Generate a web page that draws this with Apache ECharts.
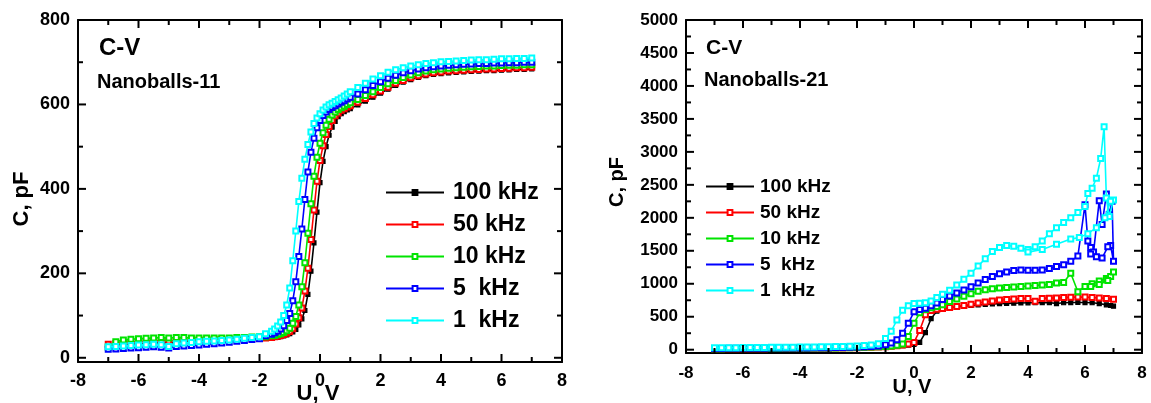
<!DOCTYPE html>
<html>
<head>
<meta charset="utf-8">
<script src="https://cdn.jsdelivr.net/npm/echarts@6/dist/echarts.min.js"></script>
<style>
  html, body { margin: 0; padding: 0; background: #fff; }
  #chart { width: 1151px; height: 403px; }
</style>
</head>
<body>
<div id="chart"></div>
<script>
// ---- Nanoballs-11: bias voltage (V) and capacitance (pF) per frequency ----
const uL = [-7,-6.75,-6.5,-6.25,-6,-5.75,-5.5,-5.25,-5,-4.75,-4.5,-4.25,-4,-3.75,-3.5,-3.25,-3,-2.75,-2.5,-2.25,-2,
  -1.8,-1.6,-1.5,-1.4,-1.3,-1.2,-1.1,-1.0,-0.9,-0.8,-0.7,-0.6,-0.5,-0.4,-0.3,-0.2,-0.1,0,0.1,0.2,0.3,0.4,0.5,0.6,0.7,0.8,0.9,1.0,
  1.25,1.5,1.75,2,2.25,2.5,2.75,3,3.25,3.5,3.75,4,4.25,4.5,4.75,5,5.25,5.5,5.75,6,6.25,6.5,6.75,7];
const cL100 = [28,30,31,32,33,34,35,36,35,37,38,38,39,40,40,41,42,42,43,44,45,
  46,47,48,49,50,52,54,57,61,67,78,92,112,150,205,272,345,415,465,500,527,546,560,571,578,583,587,590,
  599,608,617,627,636,645,653,659,664,668,671,673,675,676,677,678,679,680,680,681,682,683,683,684];
const cL50 = [32,34,36,37,38,39,40,40,40,41,41,42,42,42,43,43,44,44,45,46,46,
  47,48,50,51,53,55,58,62,69,80,95,118,158,212,280,350,418,467,502,529,548,562,573,580,586,590,594,597,
  605,614,623,632,641,650,657,663,668,672,675,677,679,680,681,682,683,684,684,685,686,687,687,688];
const cL10 = [25,38,42,44,45,46,47,48,47,48,48,47,47,47,47,47,47,48,48,49,50,
  50,52,53,55,57,60,64,70,82,98,125,168,225,295,365,430,475,508,533,551,565,575,582,588,592,596,600,604,
  612,621,630,640,649,657,664,670,675,679,682,684,686,687,688,689,690,691,691,692,693,693,694,694];
const cL5 = [20,21,22,23,24,25,26,25,23,27,28,29,30,32,33,35,37,39,41,43,45,
  52,56,59,63,68,76,88,105,135,180,240,305,375,440,487,520,545,562,574,582,588,593,597,601,605,609,613,617,
  625,635,645,654,662,669,675,680,684,687,689,691,693,694,695,696,697,697,698,698,699,699,700,700];
const cL1 = [26,27,28,29,30,31,32,31,27,33,35,36,38,39,40,41,42,44,46,48,50,
  57,63,68,75,85,100,125,165,230,300,370,425,470,505,535,555,568,578,587,594,599,603,607,611,615,620,625,630,
  640,650,660,668,676,682,687,691,694,697,699,701,702,703,704,705,706,706,707,708,708,709,709,710];

// ---- Nanoballs-21: main sweep up to 5.75 V, then the noisy end of each sweep ----
const uR = [-7,-6.75,-6.5,-6.25,-6,-5.75,-5.5,-5.25,-5,-4.75,-4.5,-4.25,-4,-3.75,-3.5,-3.25,-3,-2.75,-2.5,-2.25,-2,-1.75,-1.5,-1.25,
  -1,-0.8,-0.6,-0.4,-0.2,0,0.2,0.4,0.6,0.8,1,
  1.25,1.5,1.75,2,2.25,2.5,2.75,3,3.25,3.5,3.75,4,4.25,4.5,4.75,5,5.25,5.5,5.75];
const cR100 = [10,10,11,11,12,12,13,13,14,14,15,15,16,17,18,19,20,21,23,25,27,30,33,37,
  42,48,55,62,70,80,110,260,470,585,615,
  635,648,660,670,680,688,694,699,703,706,709,711,712,713,714,700,712,715,716];
const cR50 = [13,13,14,14,15,15,16,16,17,17,18,18,19,20,21,22,23,24,26,28,30,33,36,40,
  45,52,60,70,85,110,290,530,595,615,625,
  640,655,672,690,708,725,740,752,762,770,775,778,735,778,782,785,790,795,800];
const cR10 = [16,16,17,17,18,18,19,19,20,20,21,21,22,23,24,25,26,27,29,31,33,36,40,45,
  50,58,68,85,200,400,560,610,635,655,680,
  730,770,810,850,885,910,925,935,945,952,958,965,975,982,988,1010,1020,1160,880];
const cR5 = [20,20,21,21,22,22,23,23,24,24,25,25,26,27,28,29,30,32,34,37,40,44,50,58,
  75,100,150,250,400,575,610,630,665,710,760,
  815,860,905,955,1010,1065,1110,1150,1180,1200,1210,1205,1205,1210,1230,1260,1290,1340,1420];
const cR1 = [28,29,30,31,32,33,34,35,36,37,38,39,40,41,42,44,46,48,50,53,57,63,72,90,
  170,280,450,600,665,700,705,712,740,790,840,
  900,980,1070,1160,1270,1380,1490,1550,1580,1570,1540,1520,1560,1650,1760,1850,1930,2000,2080];

const tR100U = [6, 6.25, 6.5, 6.75, 6.9, 7];
const tR100C = [715, 712, 700, 680, 670, 660];
const tR50U = [6, 6.25, 6.5, 6.75, 7];
const tR50C = [798, 792, 785, 778, 765];
const tR10U = [6, 6.25, 6.5, 6.75, 6.9, 7, 6.8, 6.5, 6.2];
const tR10C = [960, 1000, 1040, 1080, 1110, 1180, 1050, 990, 960];
const tR5U = [6.0, 6.1, 6.2, 6.3, 6.5, 6.6, 6.75, 6.85, 6.95, 7.0, 6.9, 6.8, 6.6, 6.4, 6.2];
const tR5C = [2200, 1650, 1550, 1480, 2260, 1900, 2360, 2050, 2250, 1340, 1580, 1560, 1390, 1410, 1450];
const tR1U = [6.0, 6.1, 6.25, 6.4, 6.55, 6.67, 6.75, 6.85, 7.0, 6.9, 6.7, 6.4, 6.1, 5.8, 5.5, 5.0, 4.5, 4.0];
const tR1C = [2170, 2370, 2450, 2600, 2900, 3380, 2300, 2020, 2270, 2250, 2000, 1850, 1760, 1700, 1680, 1600, 1520, 1480];

const freqNames = ['100 kHz', '50 kHz', '10 kHz', '5  kHz', '1  kHz'];
const freqColors = ['#000000', '#ff0000', '#00e400', '#0000ff', '#00ffff'];
const freqSymbols = ['rect', 'emptyRect', 'emptyRect', 'emptyRect', 'emptyRect'];

// axis ranges and tick values
const xRange = [-8, 8];
const leftRange = [-10, 800];
const rightRange = [-50, 5000];
const xMajor = [-8, -6, -4, -2, 0, 2, 4, 6, 8];
const xMinor = [-7, -5, -3, -1, 1, 3, 5, 7];
const leftTicks = [0, 200, 400, 600, 800];
const leftMinor = [100, 300, 500, 700];
const rightTicks = [0, 500, 1000, 1500, 2000, 2500, 3000, 3500, 4000, 4500, 5000];
const rightMinor = [250, 750, 1250, 1750, 2250, 2750, 3250, 3750, 4250, 4750];

const FONT = '"Liberation Sans", Arial, Helvetica, sans-serif';
const MAJOR_LEN = 8, MINOR_LEN = 5, TICK_W = 2;

function pairs(u, c) { return u.map((x, i) => [x, c[i]]); }

// frame side: axis line only (labels on the bottom/left sides)
function side(grid, pos, range, labelValues, label) {
  return {
    type: 'value', gridIndex: grid, position: pos, min: range[0], max: range[1],
    axisLine: { show: true, onZero: false, lineStyle: { color: '#000', width: 2 } },
    axisTick: { show: false }, minorTick: { show: false }, splitLine: { show: false },
    axisLabel: label ? Object.assign({ show: true, customValues: labelValues, formatter: v => String(v),
      color: '#000', fontFamily: FONT, fontWeight: 'bold' }, label) : { show: false }
  };
}

const xAxis = [
  side(0, 'bottom', xRange, xMajor, { fontSize: 18, margin: 10 }),
  side(0, 'top', xRange, xMajor, null),
  side(1, 'bottom', xRange, xMajor, { fontSize: 17, margin: 12 }),
  side(1, 'top', xRange, xMajor, null)
];
const yAxis = [
  side(0, 'left', leftRange, leftTicks, { fontSize: 18, margin: 8 }),
  side(0, 'right', leftRange, leftTicks, null),
  side(1, 'left', rightRange, rightTicks, { fontSize: 17, margin: 8 }),
  side(1, 'right', rightRange, rightTicks, null)
];

// inward tick marks on the four frame sides: thin rect symbols placed on the edge
// through the grid's scales, shifted inward so they start at the frame line
function tickMarks(xi, yi, points, size, offset) {
  return {
    type: 'scatter', xAxisIndex: xi, yAxisIndex: yi, data: points,
    symbol: 'rect', symbolSize: size, symbolOffset: offset, symbolKeepAspect: false,
    itemStyle: { color: '#000', opacity: 1 },
    clip: false, silent: true, z: 20, zlevel: 1, emphasis: { disabled: true }
  };
}
function frameTicks(xi, yi, yRange, yMajor, yMinor) {
  const out = [];
  [[xMajor, MAJOR_LEN], [xMinor, MINOR_LEN]].forEach(([vals, len]) => {
    out.push(tickMarks(xi, yi, vals.map(v => [v, yRange[0]]), [TICK_W, len], [0, -len / 2]));
    out.push(tickMarks(xi, yi, vals.map(v => [v, yRange[1]]), [TICK_W, len], [0, len / 2]));
  });
  [[yMajor, MAJOR_LEN], [yMinor, MINOR_LEN]].forEach(([vals, len]) => {
    out.push(tickMarks(xi, yi, vals.map(v => [xRange[0], v]), [len, TICK_W], [len / 2, 0]));
    out.push(tickMarks(xi, yi, vals.map(v => [xRange[1], v]), [len, TICK_W], [-len / 2, 0]));
  });
  return out;
}

function curve(i, data, xi, yi) {
  return {
    type: 'line', name: freqNames[i], xAxisIndex: xi, yAxisIndex: yi, data: data,
    symbol: freqSymbols[i], symbolSize: i === 0 ? 4 : 5, showSymbol: true, showAllSymbol: true,
    color: freqColors[i],
    lineStyle: { width: 1.6, color: freqColors[i] },
    itemStyle: { color: freqColors[i], borderColor: freqColors[i], borderWidth: 1.2 },
    emphasis: { disabled: true }, z: 2 + i
  };
}

const leftSets = [cL100, cL50, cL10, cL5, cL1];
const rightSets = [[cR100, tR100U, tR100C], [cR50, tR50U, tR50C], [cR10, tR10U, tR10C], [cR5, tR5U, tR5C], [cR1, tR1U, tR1C]];

let series = [];
leftSets.forEach((c, i) => series.push(curve(i, pairs(uL, c), 0, 0)));
rightSets.forEach((s, i) => series.push(curve(i, pairs(uR, s[0]).concat(pairs(s[1], s[2])), 2, 2)));
series = series.concat(frameTicks(0, 0, leftRange, leftTicks, leftMinor));
series = series.concat(frameTicks(2, 2, rightRange, rightTicks, rightMinor));

function text(str, x, y, size, align, vAlign, rotation) {
  return { type: 'text', x: x, y: y, rotation: rotation || 0,
    style: { text: str, fill: '#000', font: 'bold ' + size + 'px ' + FONT,
      textAlign: align, textVerticalAlign: vAlign } };
}

const option = {
  animation: false,
  backgroundColor: '#fff',
  grid: [
    { left: 78, top: 20, width: 484, height: 342, containLabel: false },
    { left: 686, top: 20, width: 456, height: 333, containLabel: false }
  ],
  xAxis: xAxis,
  yAxis: yAxis,
  legend: [
    { orient: 'vertical', left: 380, top: 176, itemWidth: 58, itemHeight: 6, itemGap: 9,
      data: freqNames, selectedMode: false,
      textStyle: { fontFamily: FONT, fontWeight: 'bold', fontSize: 23, lineHeight: 23, color: '#000', padding: [0, 0, 0, 4] } },
    { orient: 'vertical', left: 700, top: 172, itemWidth: 48, itemHeight: 6, itemGap: 7,
      data: freqNames, selectedMode: false,
      textStyle: { fontFamily: FONT, fontWeight: 'bold', fontSize: 19, lineHeight: 19, color: '#000', padding: [0, 0, 0, 1] } }
  ],
  graphic: [
    text('C-V', 99, 48, 24, 'left', 'middle'),
    text('Nanoballs-11', 97, 82, 20, 'left', 'middle'),
    text('C-V', 706, 48, 21, 'left', 'middle'),
    text('Nanoballs-21', 704, 80, 20, 'left', 'middle'),
    text('C, pF', 22, 199, 22, 'center', 'middle', Math.PI / 2),
    text('C, pF', 617, 182, 20, 'center', 'middle', Math.PI / 2),
    text('U, V', 318, 383, 22, 'center', 'top'),
    text('U, V', 912, 377, 20, 'center', 'top')
  ],
  series: series
};

const chart = echarts.init(document.getElementById('chart'), null, { renderer: 'canvas' });
chart.setOption(option);
</script>
</body>
</html>
